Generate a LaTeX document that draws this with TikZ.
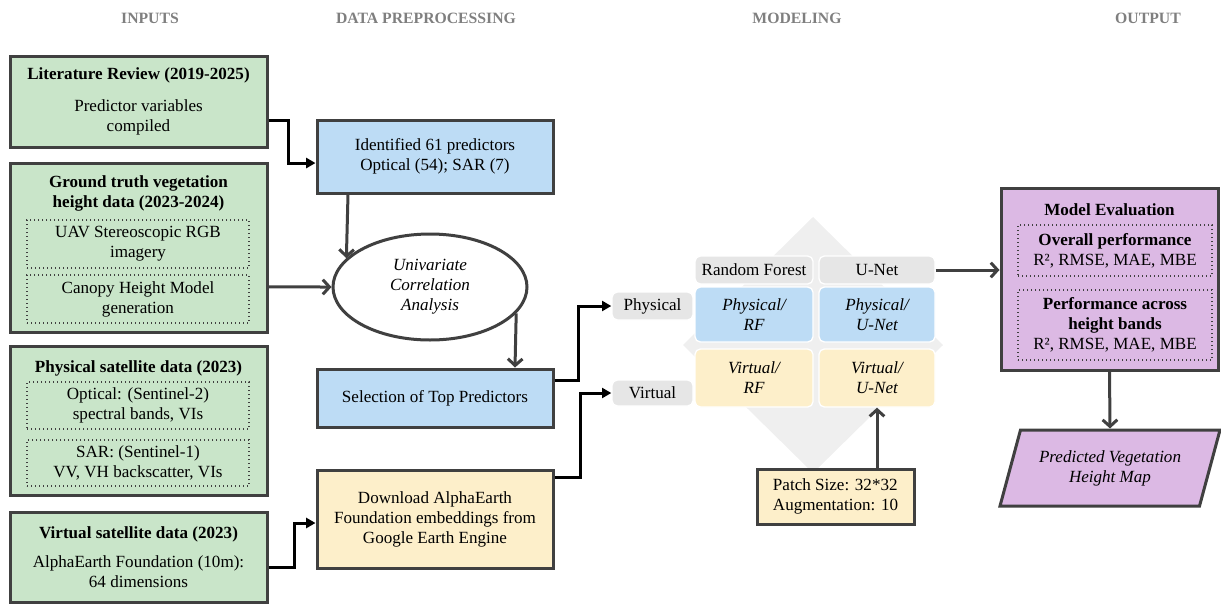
\documentclass[tikz,border=0pt]{standalone}
\usepackage{fontspec}
\setmainfont{Liberation Serif}
\usetikzlibrary{arrows.meta,positioning,shapes.geometric,calc}
\definecolor{edge}{HTML}{404040}
\definecolor{headgray}{HTML}{7F7F7F}
\definecolor{leaf}{HTML}{C9E5C9}
\definecolor{sky}{HTML}{BDDCF5}
\definecolor{sand}{HTML}{FDEFCA}
\definecolor{lilac}{HTML}{DCB9E4}
\definecolor{chip}{HTML}{E6E6E6}
\definecolor{diam}{HTML}{EFEFEF}
\newcommand{\bodyfs}{\fontsize{12.8}{15}\selectfont}
\tikzset{
  box/.style={rectangle, draw=edge, line width=2.25pt, align=center, inner sep=3pt, font=\bodyfs},
  greenbox/.style={box, fill=leaf},
  bluebox/.style={box, fill=sky},
  sandbox/.style={box, fill=sand},
  lilacbox/.style={box, fill=lilac},
  inbox/.style={rectangle, draw=edge, dotted, line width=1pt, align=center, inner sep=2pt, font=\bodyfs},
  cell/.style={rectangle, rounded corners=4pt, draw=white, line width=1pt, align=center, inner sep=0pt, font=\bodyfs},
  head/.style={font=\fontsize{11.8}{13}\selectfont\bfseries, text=headgray},
  ttl/.style={font=\bodyfs\bfseries, align=center},
  blk/.style={-{Triangle[length=7pt,width=7.5pt]}, draw=black, line width=2.25pt},
  gry/.style={-{Straight Barb[length=5pt,width=11pt]}, draw=edge, line width=2.25pt},
}
\begin{document}
\begin{tikzpicture}[x=0.75pt, y=-0.75pt]
\useasboundingbox (0,0) rectangle (1221,604);
\node[head] (h1) at (150,18) {INPUTS};
\node[head] (h2) at (426,18) {DATA PREPROCESSING};
\node[head] (h3) at (797,18) {MODELING};
\node[head] (h4) at (1148,18) {OUTPUT};

\node[greenbox, minimum width=192.75pt, minimum height=68.25pt] (n1) at (138.5,101.5)
 {\textbf{Literature Review (2019-2025)}\\[9pt]Predictor variables\\compiled};
\node[greenbox, minimum width=192.75pt, minimum height=126.75pt] (n2) at (138.5,247.5) {};
\node[ttl] (n2t) at (138.5,193) {Ground truth vegetation\\height data (2023-2024)};
\node[inbox, minimum width=166.5pt, minimum height=36pt] (n2a) at (138,244) {UAV Stereoscopic RGB\\imagery};
\node[inbox, minimum width=166.5pt, minimum height=36pt] (n2b) at (138,299) {Canopy Height Model\\generation};
\node[greenbox, minimum width=192.75pt, minimum height=111.75pt] (n3) at (138.5,420.5) {};
\node[ttl] (n3t) at (138.5,368) {Physical satellite data (2023)};
\node[inbox, minimum width=166.5pt, minimum height=35.25pt] (n3a) at (138,405.5) {Optical: (Sentinel-2)\\spectral bands, VIs};
\node[inbox, minimum width=166.5pt, minimum height=34.5pt] (n3b) at (138,463) {SAR: (Sentinel-1)\\VV, VH backscatter, VIs};
\node[greenbox, minimum width=192.75pt, minimum height=67.5pt] (n4) at (138.5,557)
 {\textbf{Virtual satellite data (2023)}\\[6.75pt]AlphaEarth Foundation (10m):\\64 dimensions};

\node[bluebox, minimum width=177pt, minimum height=54.75pt] (n5) at (435,156.5)
 {Identified 61 predictors\\Optical (54); SAR (7)};
\node[ellipse, draw=edge, fill=white, line width=2.25pt, inner sep=0pt, minimum width=145.5pt,
 minimum height=79.5pt, align=center, font=\bodyfs\itshape] (n6) at (430,287)
 {Univariate\\Correlation\\Analysis};
\node[bluebox, minimum width=177pt, minimum height=43.5pt] (n7) at (435,398) {Selection of Top Predictors};
\node[sandbox, minimum width=177pt, minimum height=73.5pt] (n8) at (435,519)
 {Download AlphaEarth\\Foundation embeddings from\\Google Earth Engine};

\fill[diam] (813,217) -- (943,345) -- (813,473) -- (683,345) -- cycle;
\node[cell, fill=chip, minimum width=88.5pt, minimum height=21pt] (rfh) at (754,270) {Random Forest};
\node[cell, fill=chip, minimum width=87pt, minimum height=21pt] (unh) at (877,270) {U-Net};
\node[cell, fill=sky, minimum width=88.5pt, minimum height=41.25pt, font=\bodyfs\itshape] (prf) at (754,314.5) {Physical/\\RF};
\node[cell, fill=sky, minimum width=87pt, minimum height=41.25pt, font=\bodyfs\itshape] (pun) at (877,314.5) {Physical/\\U-Net};
\node[cell, fill=sand, minimum width=88.5pt, minimum height=43.5pt, font=\bodyfs\itshape] (vrf) at (754,378) {Virtual/\\RF};
\node[cell, fill=sand, minimum width=87pt, minimum height=43.5pt, font=\bodyfs\itshape] (vun) at (877,378) {Virtual/\\U-Net};
\node[cell, fill=chip, minimum width=60.75pt, minimum height=21pt] (physl) at (652.5,306) {Physical};
\node[cell, fill=chip, minimum width=60.75pt, minimum height=19.5pt] (virtl) at (652.5,393) {Virtual};
\node[sandbox, minimum width=117.75pt, minimum height=41.25pt, align=left] (patch) at (835.5,496.5)
 {Patch Size: 32*32\\Augmentation: 10};

\node[lilacbox, minimum width=162.75pt, minimum height=136.5pt] (meval) at (1109.5,279) {};
\node[ttl] (mevt) at (1109.5,210) {Model Evaluation};
\node[inbox, minimum width=145.5pt, minimum height=38.25pt] (ov) at (1115,250.5)
 {\textbf{Overall performance}\\R², RMSE, MAE, MBE};
\node[inbox, minimum width=145.5pt, minimum height=52.5pt] (hb) at (1115,325)
 {\textbf{Performance across}\\\textbf{height bands}\\R², RMSE, MAE, MBE};
\node[trapezium, trapezium left angle=60, trapezium right angle=120, trapezium stretches body,
 draw=edge, fill=lilac, line width=2.25pt, minimum width=165pt, minimum height=57pt, inner sep=0pt,
 align=center, font=\bodyfs\itshape] (pvh) at (1110,468) {Predicted Vegetation\\Height Map};

\draw[blk] ([yshift=-13.9pt]n1.east) -- ++(20,0) |- ([yshift=-4.9pt]n5.west);
\draw[gry] ([yshift=-29.6pt]n2.east) -- (n6.west);
\draw[gry] ([xshift=-65.25pt]n5.south) -- (n6.161);
\draw[gry] (n6.343) -- ([xshift=60pt]n7.north);
\draw[blk] ([yshift=-7.5pt]n4.east) -- ++(26,0) |- ([yshift=-3pt]n8.west);
\draw[blk] ([yshift=13.5pt]n7.east) -- ++(24,0) |- (physl.west);
\draw[blk] ([yshift=31.5pt]n8.east) -- ++(26,0) |- (virtl.west);
\draw[gry] (unh.east) -- (unh.east -| meval.west);
\draw[gry] (vun.south |- patch.north) -- (vun.south);
\draw[gry] (meval.south) -- (pvh.north);
\end{tikzpicture}
\end{document}
